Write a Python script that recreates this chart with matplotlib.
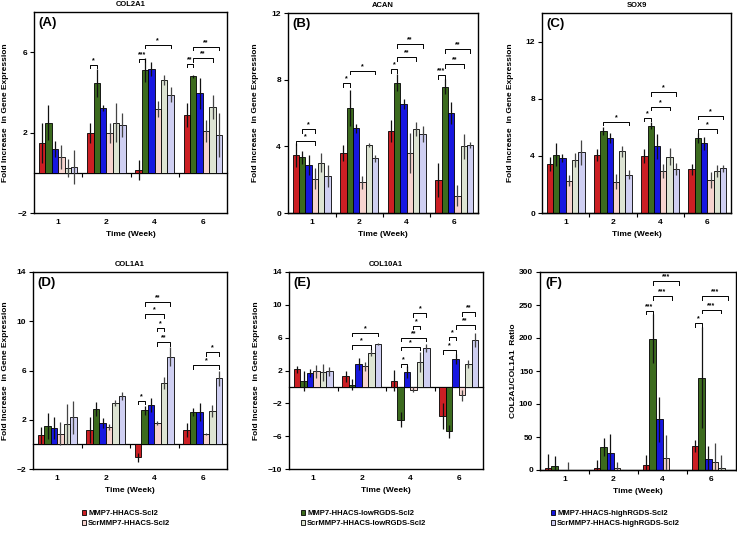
import matplotlib.pyplot as plt
from matplotlib.patches import Patch
import numpy as np

plt.rcParams['font.family'] = ['Liberation Sans', 'DejaVu Sans']
plt.rcParams['font.weight'] = 'bold'

# categories / series
weeks = ['1', '2', '4', '6']
series = ['MMP7-HHACS-Scl2', 'MMP7-HHACS-lowRGDS-Scl2', 'MMP7-HHACS-highRGDS-Scl2',
          'ScrMMP7-HHACS-Scl2', 'ScrMMP7-HHACS-lowRGDS-Scl2', 'ScrMMP7-HHACS-highRGDS-Scl2']
colors = ['#CC1F24', '#3C6B1E', '#1717E0', '#F6D3CE', '#DDE4D3', '#CFCFF2']
ecolors = ['#111111', '#111111', '#111111', '#444444', '#444444', '#444444']

# one row per week, one column per series
col2a1_mean = [[1.5, 2.5, 1.2, 0.8, 0.22, 0.27],
               [1.97, 4.47, 3.2, 1.97, 2.5, 2.4],
               [0.12, 5.12, 5.17, 3.17, 4.62, 3.88],
               [2.87, 4.8, 3.95, 2.08, 3.28, 1.87]]
col2a1_err = [[1.0, 0.85, 0.4, 0.6, 0.45, 0.85],
              [0.5, 0.7, 0.15, 0.5, 0.95, 0.6],
              [0.5, 0.58, 0.35, 0.4, 0.25, 0.37],
              [0.6, 0.07, 0.78, 0.55, 0.6, 1.1]]
col2a1_sig = [(1, 0, 1, 5.38, '*'), (2, 0, 1, 5.67, '***'), (2, 1, 5, 6.37, '*'),
              (3, 0, 1, 5.42, '**'), (3, 1, 4, 5.7, '**'), (3, 1, 5, 6.28, '**')]

acan_mean = [[3.49, 3.35, 2.9, 2.07, 3.03, 2.23],
             [3.61, 6.29, 5.08, 1.85, 4.1, 3.29],
             [4.92, 7.83, 6.53, 3.61, 5.04, 4.72],
             [1.99, 7.59, 6.02, 1.04, 4.0, 4.08]]
acan_err = [[0.7, 0.4, 0.6, 0.65, 0.55, 0.65],
            [0.5, 1.08, 0.25, 0.4, 0.12, 0.22],
            [0.66, 0.5, 0.3, 1.2, 0.4, 0.48],
            [1.02, 0.44, 0.67, 0.62, 0.74, 0.2]]
acan_sig = [(0, 0, 3, 4.3, '*'), (0, 1, 3, 5.04, '*'), (1, 0, 1, 7.79, '*'), (1, 1, 5, 8.53, '*'),
            (2, 0, 1, 8.63, '*'), (2, 1, 4, 9.34, '**'), (2, 1, 5, 10.14, '**'),
            (3, 0, 1, 8.27, '***'), (3, 1, 4, 8.94, '**'), (3, 1, 5, 9.84, '**')]

sox9_mean = [[3.41, 4.07, 3.86, 2.26, 3.72, 4.24],
             [4.07, 5.74, 5.25, 2.19, 4.31, 2.68],
             [4.0, 6.12, 4.66, 2.92, 3.95, 3.1],
             [3.06, 5.25, 4.89, 2.33, 2.92, 3.13]]
sox9_err = [[0.5, 0.8, 0.3, 0.4, 0.5, 0.85],
            [0.4, 0.26, 0.33, 0.52, 0.4, 0.33],
            [0.47, 0.24, 0.87, 0.5, 0.59, 0.42],
            [0.4, 0.33, 0.45, 0.56, 0.42, 0.26]]
sox9_sig = [(1, 1, 5, 6.4, '*'), (2, 0, 1, 6.68, '*'), (2, 1, 4, 7.43, '*'), (2, 1, 5, 8.44, '*'),
            (3, 1, 4, 5.86, '*'), (3, 1, 5, 6.8, '*')]

col1a1_mean = [[0.73, 1.49, 1.3, 0.87, 1.65, 2.2],
               [1.17, 2.85, 1.71, 1.38, 3.36, 3.93],
               [-1.06, 2.76, 3.17, 1.73, 5.01, 7.13],
               [1.17, 2.6, 2.6, 0.84, 2.68, 5.37]]
col1a1_err = [[0.7, 1.08, 0.9, 0.92, 1.63, 1.33],
              [1.03, 0.57, 0.41, 0.25, 0.25, 0.35],
              [0.38, 0.35, 0.57, 0.19, 0.49, 0.76],
              [0.6, 0.33, 0.73, 0.1, 0.49, 0.62]]
col1a1_sig = [(2, 0, 1, 3.53, '*'), (2, 3, 5, 8.3, '**'), (2, 3, 4, 9.49, '*'),
              (2, 1, 4, 10.58, '*'), (2, 1, 5, 11.55, '**'),
              (3, 1, 5, 6.43, '*'), (3, 3, 5, 7.48, '*')]

col10a1_mean = [[2.14, 0.74, 1.69, 1.89, 1.77, 1.89],
                [1.27, 0.29, 2.79, 2.5, 4.19, 5.22],
                [0.78, -3.99, 1.81, -0.33, 3.08, 4.73],
                [-3.58, -5.43, 3.41, -1.03, 2.79, 5.75]]
col10a1_err = [[0.4, 1.2, 0.5, 0.8, 1.0, 0.5],
               [0.7, 0.7, 0.7, 0.5, 0.45, 0.15],
               [1.3, 0.95, 0.78, 0.35, 1.23, 0.53],
               [1.56, 0.82, 0.62, 0.7, 0.5, 0.86]]
col10a1_sig = [(1, 1, 4, 5.05, '*'), (1, 1, 5, 6.6, '*'),
               (2, 1, 2, 2.8, '*'), (2, 1, 4, 4.88, '*'), (2, 1, 5, 5.98, '**'),
               (2, 3, 4, 7.44, '*'), (2, 3, 5, 8.99, '*'),
               (3, 0, 2, 4.5, '*'), (3, 1, 2, 6.1, '*'), (3, 2, 5, 7.53, '**'), (3, 3, 5, 9.07, '**')]

ratio_mean = [[2.5, 5.5, 0.5, 0.5, 0.5, 0.5],
              [3.5, 35, 26, 2.5, 0.5, 0.5],
              [8, 199, 77, 18, 0.5, 0.5],
              [37, 140, 16, 11.6, 2.5, 0.5]]
ratio_err = [[21, 15, 0, 11, 0, 0],
             [11, 14, 29, 9, 0, 0],
             [14, 37, 34, 35, 0, 0],
             [9, 77, 20, 30, 20, 0]]
ratio_sig = [(2, 0, 1, 241.6, '***'), (2, 1, 4, 263.5, '***'), (2, 1, 5, 285.8, '***'),
             (3, 0, 1, 222.8, '*'), (3, 1, 4, 242.6, '***'), (3, 1, 5, 263.5, '***')]

fold_label = 'Fold Increase  in Gene Expression'

panels = [
    ('COL2A1', '(A)', col2a1_mean, col2a1_err, col2a1_sig, (-2, 8), [-2, 2, 6], fold_label),
    ('ACAN', '(B)', acan_mean, acan_err, acan_sig, (0, 12), [0, 4, 8, 12], fold_label),
    ('SOX9', '(C)', sox9_mean, sox9_err, sox9_sig, (0, 14), [0, 4, 8, 12], fold_label),
    ('COL1A1', '(D)', col1a1_mean, col1a1_err, col1a1_sig, (-2, 14), [-2, 2, 6, 10, 14], fold_label),
    ('COL10A1', '(E)', col10a1_mean, col10a1_err, col10a1_sig, (-10, 14), [-10, -6, -2, 2, 6, 10, 14], fold_label),
    ('', '(F)', ratio_mean, ratio_err, ratio_sig, (0, 300), [0, 50, 100, 150, 200, 250, 300], 'COL2A1/COL1A1  Ratio'),
]

# axes boxes in pixels: left, top, right, bottom ; and ylabel x offset
W, H = 737, 534
boxes = [(34, 12, 227, 213), (288, 13, 478, 213), (542, 13, 731, 213),
         (33, 272, 227, 469), (289, 272, 483, 469), (540, 272, 736, 470)]
ylab_x = [-0.128, -0.153, -0.148, -0.122, -0.15, -0.117]

fig = plt.figure(figsize=(W / 100, H / 100), dpi=100)

bw = 0.8 / 6
xc = np.arange(1, len(weeks) + 1)

for p, (title, letter, mean, err, sig, ylim, yticks, ylabel) in enumerate(panels):
    l, t, r, b = boxes[p]
    ax = fig.add_axes([l / W, 1 - b / H, (r - l) / W, (b - t) / H])
    mean = np.array(mean)
    err = np.array(err)
    for k in range(len(series)):
        xs = xc + (k - 2.5) * bw
        ax.bar(xs, mean[:, k], bw, color=colors[k], edgecolor='black', linewidth=0.6, zorder=2)
        ax.errorbar(xs, mean[:, k], yerr=err[:, k], fmt='none', ecolor=ecolors[k],
                    elinewidth=0.9, capsize=0, zorder=3)

    span = ylim[1] - ylim[0]
    for g, i, j, y, lab in sig:
        xi = xc[g] + (i - 2.5) * bw
        xj = xc[g] + (j - 2.5) * bw
        ax.plot([xi, xi, xj, xj], [y - 0.018 * span, y, y, y - 0.018 * span],
                color='black', lw=0.7, zorder=4)
        ax.text((xi + xj) / 2, y + 0.004 * span, lab, ha='center', va='bottom', fontsize=5)

    ax.set_xlim(0.5, 4.5)
    ax.set_ylim(*ylim)
    ax.set_yticks(yticks)
    ax.set_xticks(xc)
    ax.set_xticklabels(weeks)
    ax.tick_params(axis='x', length=0, pad=4, labelsize=6)
    ax.tick_params(axis='y', direction='out', length=3, width=0.8, labelsize=6, pad=2)
    for s in ax.spines.values():
        s.set_linewidth(1.0)

    # zero line with group separator ticks
    zfrac = (0 - ylim[0]) / span
    sec = ax.secondary_xaxis(zfrac)
    sec.set_xticks([1.5, 2.5, 3.5])
    sec.set_xticklabels([])
    sec.tick_params(direction='out', length=3, width=0.8)
    sec.spines['bottom'].set_linewidth(0.9)
    sec.spines['top'].set_linewidth(0.9)

    ax.set_xlabel('Time (Week)', fontsize=6, fontweight='bold')
    ax.xaxis.set_label_coords(0.5, -0.09)
    ax.set_ylabel(ylabel, fontsize=6, fontweight='bold')
    ax.yaxis.set_label_coords(ylab_x[p], 0.5)
    if title:
        ax.set_title(title, fontsize=5.5, fontweight='bold', pad=4)
    ax.text(0.025, 0.975, letter, transform=ax.transAxes, ha='left', va='top',
            fontsize=9.5, fontweight='bold')

# legend: three columns of two entries
leg_x = [82 / W, 301 / W, 551 / W]
for c in range(3):
    handles = [Patch(facecolor=colors[c], edgecolor='black', linewidth=0.6),
               Patch(facecolor=colors[c + 3], edgecolor='black', linewidth=0.6)]
    fig.legend(handles, [series[c], series[c + 3]], loc='upper left',
               bbox_to_anchor=(leg_x[c], 1 - 510 / H), frameon=False,
               prop={'size': 5.5, 'weight': 'bold'}, handlelength=0.55, handleheight=0.55,
               handletextpad=0.25, labelspacing=0.45, borderpad=0, borderaxespad=0)

fig.savefig('out.png', dpi=100)
